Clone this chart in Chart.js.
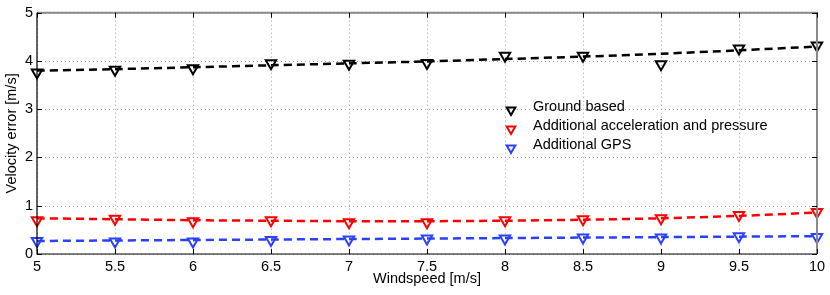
<!DOCTYPE html>
<html>
<head>
<meta charset="utf-8">
<script src="https://cdn.jsdelivr.net/npm/chart.js@4.4.1/dist/chart.umd.min.js"></script>
<style>
  html, body { margin: 0; padding: 0; background: #fff; }
  #wrap { width: 830px; height: 295px; }
</style>
</head>
<body>
<div id="wrap"><canvas id="chart" width="830" height="295"></canvas></div>
<script>
// windspeed values (x axis)
const windspeed = [5, 5.5, 6, 6.5, 7, 7.5, 8, 8.5, 9, 9.5, 10];

// measured velocity errors
const groundBased = [3.76, 3.82, 3.85, 3.95, 3.94, 3.96, 4.11, 4.11, 3.93, 4.26, 4.32];
const accelPressure = [0.70, 0.73, 0.68, 0.70, 0.66, 0.66, 0.70, 0.72, 0.74, 0.81, 0.87];
const gps = [0.27, 0.26, 0.26, 0.29, 0.30, 0.32, 0.32, 0.34, 0.34, 0.37, 0.35];

// fitted (dashed) curves
const groundFit = [3.80, 3.83, 3.87, 3.91, 3.95, 3.99, 4.04, 4.09, 4.15, 4.22, 4.30];
const accelFit = [0.74, 0.72, 0.70, 0.69, 0.68, 0.68, 0.69, 0.71, 0.74, 0.79, 0.86];
const gpsFit = [0.27, 0.28, 0.29, 0.30, 0.31, 0.32, 0.33, 0.34, 0.35, 0.36, 0.37];

const seriesNames = ["Ground based", "Additional acceleration and pressure", "Additional GPS"];
const seriesColors = ["#000000", "#ff0000", "#2a40ff"];

const FONT = "'Liberation Sans', Arial, Helvetica, sans-serif";

function toPoints(ys) {
  return windspeed.map((x, i) => ({ x: x, y: ys[i] }));
}

function markerSet(label, ys, color) {
  return {
    label: label,
    data: toPoints(ys),
    showLine: false,
    clip: false,
    pointStyle: "triangle",
    rotation: 180,
    pointRadius: 6,
    pointBorderWidth: 2,
    pointBackgroundColor: "rgba(255,255,255,0)",
    pointBorderColor: color,
    borderColor: color,
    order: 0,
  };
}

function fitSet(ys, color) {
  return {
    label: "",
    data: toPoints(ys),
    showLine: true,
    borderColor: color,
    borderWidth: 2.5,
    borderDash: [8, 5],
    pointRadius: 0,
    tension: 0.3,
    order: 1,
  };
}

// dotted grid, box and inward tick marks (matlab look)
const boxPlugin = {
  id: "box",
  beforeDatasetsDraw(chart) {
    const { ctx, chartArea: a, scales } = chart;
    const xs = scales.x, ys = scales.y;
    ctx.save();
    ctx.strokeStyle = "#a0a0a0";
    ctx.lineWidth = 1;
    ctx.setLineDash([1, 3]);
    xs.ticks.forEach((t) => {
      const px = Math.round(xs.getPixelForValue(t.value)) + 0.5;
      ctx.beginPath();
      ctx.moveTo(px, a.top);
      ctx.lineTo(px, a.bottom);
      ctx.stroke();
    });
    ys.ticks.forEach((t) => {
      const py = Math.round(ys.getPixelForValue(t.value)) + 0.5;
      ctx.beginPath();
      ctx.moveTo(a.left, py);
      ctx.lineTo(a.right, py);
      ctx.stroke();
    });
    ctx.setLineDash([]);
    ctx.restore();
  },
  afterDatasetsDraw(chart) {
    const { ctx, chartArea: a, scales } = chart;
    const xs = scales.x, ys = scales.y;
    const tl = 5;
    ctx.save();
    // top + right (gray)
    ctx.strokeStyle = "#8a8a8a";
    ctx.lineWidth = 2;
    ctx.beginPath();
    ctx.moveTo(a.left, a.top);
    ctx.lineTo(a.right, a.top);
    ctx.lineTo(a.right, a.bottom);
    ctx.stroke();
    // left + bottom (black)
    ctx.strokeStyle = "#000";
    ctx.lineWidth = 1.2;
    ctx.beginPath();
    ctx.moveTo(a.left, a.top);
    ctx.lineTo(a.left, a.bottom);
    ctx.lineTo(a.right, a.bottom);
    ctx.stroke();
    // tick marks
    ctx.lineWidth = 1;
    ctx.beginPath();
    xs.ticks.forEach((t) => {
      const px = Math.round(xs.getPixelForValue(t.value)) + 0.5;
      ctx.moveTo(px, a.bottom);
      ctx.lineTo(px, a.bottom - tl);
      ctx.moveTo(px, a.top);
      ctx.lineTo(px, a.top + tl);
    });
    ys.ticks.forEach((t) => {
      const py = Math.round(ys.getPixelForValue(t.value)) + 0.5;
      ctx.moveTo(a.left, py);
      ctx.lineTo(a.left + tl, py);
      ctx.moveTo(a.right, py);
      ctx.lineTo(a.right - tl, py);
    });
    ctx.stroke();
    ctx.restore();
  },
};

// legend inside the plot, no frame
const legendPlugin = {
  id: "insideLegend",
  afterDraw(chart) {
    const ctx = chart.ctx;
    const x0 = 511, y0 = 107, dy = 19;
    ctx.save();
    seriesNames.forEach((name, i) => {
      const y = y0 + i * dy;
      const r = 5;
      ctx.strokeStyle = seriesColors[i];
      ctx.lineWidth = 2;
      ctx.beginPath();
      ctx.moveTo(x0 - r * 0.866, y + 3 - r * 0.5);
      ctx.lineTo(x0 + r * 0.866, y + 3 - r * 0.5);
      ctx.lineTo(x0, y + 3 + r);
      ctx.closePath();
      ctx.stroke();
      ctx.fillStyle = "#000";
      ctx.font = "14.5px " + FONT;
      ctx.textBaseline = "middle";
      ctx.textAlign = "left";
      ctx.fillText(name, 533, y);
    });
    ctx.restore();
  },
};

const ctx = document.getElementById("chart").getContext("2d");

new Chart(ctx, {
  type: "scatter",
  data: {
    datasets: [
      markerSet(seriesNames[0], groundBased, seriesColors[0]),
      markerSet(seriesNames[1], accelPressure, seriesColors[1]),
      markerSet(seriesNames[2], gps, seriesColors[2]),
      fitSet(groundFit, seriesColors[0]),
      fitSet(accelFit, seriesColors[1]),
      fitSet(gpsFit, seriesColors[2]),
    ],
  },
  options: {
    responsive: false,
    animation: false,
    layout: { padding: { left: 0, right: 13, top: 10, bottom: 0 } },
    plugins: {
      legend: { display: false },
      tooltip: { enabled: false },
    },
    scales: {
      x: {
        type: "linear",
        min: 5,
        max: 10,
        grid: { display: false, drawTicks: false },
        border: { display: false },
        ticks: {
          stepSize: 0.5,
          padding: 4,
          color: "#000",
          maxRotation: 0,
          font: { family: FONT, size: 14.5 },
          callback: (v) => String(v),
        },
        title: {
          display: true,
          text: "Windspeed [m/s]",
          color: "#000",
          font: { family: FONT, size: 14.5 },
          padding: { top: 0, bottom: 7 },
        },
        afterFit(scale) {
          scale.height = 41;
        },
      },
      y: {
        type: "linear",
        min: 0,
        max: 5,
        grid: { display: false, drawTicks: false },
        border: { display: false },
        ticks: {
          stepSize: 1,
          padding: 4,
          color: "#000",
          font: { family: FONT, size: 14.5 },
          callback: (v) => String(v),
        },
        title: {
          display: true,
          text: "Velocity error [m/s]",
          color: "#000",
          font: { family: FONT, size: 14.5 },
          padding: { top: 3, bottom: 0 },
        },
        afterFit(scale) {
          scale.width = 37;
        },
      },
    },
  },
  plugins: [boxPlugin, legendPlugin],
});
</script>
</body>
</html>
